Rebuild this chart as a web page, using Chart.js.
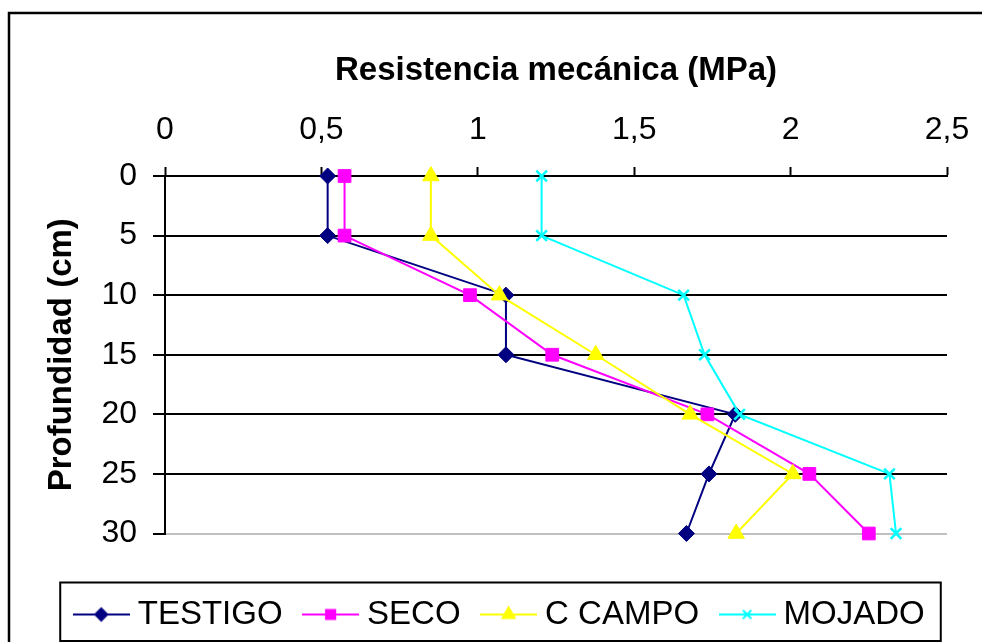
<!DOCTYPE html>
<html>
<head>
<meta charset="utf-8">
<script src="https://cdn.jsdelivr.net/npm/chart.js"></script>
<style>
  html, body { margin: 0; padding: 0; background: #fff; }
  #wrap { width: 982px; height: 642px; }
</style>
</head>
<body>
<div id="wrap"><canvas id="chart" width="982" height="642"></canvas></div>
<script>
// depth (cm) on the vertical axis, resistance (MPa) along the top
const depths   = [0, 5, 10, 15, 20, 25, 30];
const testigo  = [0.52, 0.52, 1.09, 1.09, 1.823, 1.739, 1.667];
const seco     = [0.574, 0.574, 0.975, 1.238, 1.734, 2.06, 2.25];
const cCampo   = [0.85, 0.85, 1.069, 1.377, 1.679, 2.007, 1.826];
const mojado   = [1.204, 1.204, 1.658, 1.725, 1.837, 2.316, 2.337];
const seriesNames = ['TESTIGO', 'SECO', 'C CAMPO', 'MOJADO'];
const xTicks = [0, 0.5, 1, 1.5, 2, 2.5];

const FONT = "'Liberation Sans', Arial, sans-serif";
Chart.defaults.font.family = FONT;
Chart.defaults.color = '#000';

const styles = [
  { color: '#000080', point: 'rectRot',  r: 8,   lr: 6,   bw: 1 },
  { color: '#FF00FF', point: 'rect',     r: 9,   lr: 6.5, bw: 1 },
  { color: '#FFFF00', point: 'triangle', r: 9.5, lr: 7,   bw: 1 },
  { color: '#00FFFF', point: 'crossRot', r: 7.5, lr: 6,   bw: 2.5 }
];

// small line + marker picture for the legend, like Excel draws it
function legendIcon(st) {
  const c = document.createElement('canvas');
  c.width = 57; c.height = 20;
  const g = c.getContext('2d');
  g.strokeStyle = st.color; g.fillStyle = st.color; g.lineWidth = 2;
  g.beginPath(); g.moveTo(0, 10); g.lineTo(57, 10); g.stroke();
  if (Chart.helpers && Chart.helpers.drawPoint) {
    Chart.helpers.drawPoint(g, { pointStyle: st.point, radius: st.lr, borderWidth: 2, rotation: 0 }, 28.5, 10);
  }
  return c;
}

const values = [testigo, seco, cCampo, mojado];
const datasets = values.map((vals, i) => ({
  label: seriesNames[i],
  data: vals.map((v, j) => ({ x: v, y: depths[j] })),
  borderColor: styles[i].color,
  backgroundColor: styles[i].color,
  pointBackgroundColor: styles[i].color,
  pointBorderColor: styles[i].color,
  pointStyle: styles[i].point,
  pointRadius: styles[i].r,
  pointBorderWidth: styles[i].bw,
  borderWidth: 2,
  tension: 0,
  clip: false,
  order: 4 - i
}));

const frame = {
  id: 'frame',
  afterDraw(chart) {
    const ctx = chart.ctx;
    ctx.save();
    ctx.strokeStyle = '#000';
    ctx.lineWidth = 2.5;
    ctx.beginPath();
    ctx.moveTo(9, 642); ctx.lineTo(9, 13); ctx.lineTo(982, 13);
    ctx.stroke();
    // legend box
    const lg = chart.legend;
    const hb = lg.legendHitBoxes;
    if (hb && hb.length) {
      const left = hb[0].left - 21;
      const last = hb[hb.length - 1];
      const right = last.left + last.width + 16;
      const top = lg.top + 12.5;
      const bottom = Math.min(lg.bottom, 641);
      ctx.lineWidth = 2;
      ctx.strokeRect(left, top, right - left, bottom - top);
    }
    ctx.restore();
  }
};

new Chart(document.getElementById('chart'), {
  type: 'line',
  data: { datasets },
  options: {
    responsive: false,
    animation: false,
    layout: { padding: { left: 24, right: 0, top: 0, bottom: 1 } },
    plugins: {
      tooltip: { enabled: false },
      legend: {
        position: 'bottom',
        align: 'center',
        labels: {
          usePointStyle: true,
          pointStyleWidth: 40,
          padding: 28,
          color: '#000',
          font: { size: 33, family: FONT },
          generateLabels: chart => chart.data.datasets.map((ds, i) => ({
            text: ds.label,
            pointStyle: legendIcon(styles[i]),
            fillStyle: styles[i].color,
            strokeStyle: styles[i].color,
            lineWidth: 0,
            hidden: false,
            datasetIndex: i,
            fontColor: '#000'
          }))
        }
      }
    },
    scales: {
      x: {
        type: 'linear',
        position: 'top',
        min: 0, max: 2.5,
        afterBuildTicks: s => { s.ticks = xTicks.map(v => ({ value: v })); },
        afterFit: s => { s.height = 176; s.paddingLeft = 0; s.paddingRight = 0; },
        ticks: {
          padding: 18,
          font: { size: 32 },
          color: '#000',
          maxRotation: 0,
          callback: v => String(v).replace('.', ',')
        },
        grid: { drawOnChartArea: false, drawTicks: true, tickLength: 9, tickColor: '#000', tickWidth: 2 },
        border: { display: true, color: '#000', width: 2 },
        title: {
          display: true,
          text: 'Resistencia mecánica (MPa)',
          font: { size: 33, weight: 'bold' },
          color: '#000',
          padding: { top: 51, bottom: 0 }
        }
      },
      y: {
        type: 'linear',
        position: 'left',
        reverse: true,
        min: 0, max: 30,
        afterBuildTicks: s => { s.ticks = depths.map(v => ({ value: v })); },
        afterFit: s => { s.width = 141; s.paddingTop = 0; s.paddingBottom = 0; },
        ticks: { padding: 16, font: { size: 32 }, color: '#000' },
        grid: {
          color: c => (c.tick && c.tick.value === 30) ? '#c0c0c0' : '#000',
          lineWidth: 2,
          tickLength: 12,
          tickColor: '#000',
          tickWidth: 2
        },
        border: { display: true, color: '#000', width: 2 },
        title: {
          display: true,
          text: 'Profundidad (cm)',
          font: { size: 33, weight: 'bold' },
          color: '#000',
          padding: { top: 18, bottom: 0 }
        }
      },
      y2: {
        type: 'linear',
        position: 'right',
        afterFit: s => { s.width = 35; },
        ticks: { display: false },
        grid: { display: false },
        border: { display: false }
      },
      x2: {
        type: 'linear',
        position: 'bottom',
        afterFit: s => { s.height = 36.5; },
        ticks: { display: false },
        grid: { display: false },
        border: { display: false }
      }
    }
  },
  plugins: [frame]
});
</script>
</body>
</html>
